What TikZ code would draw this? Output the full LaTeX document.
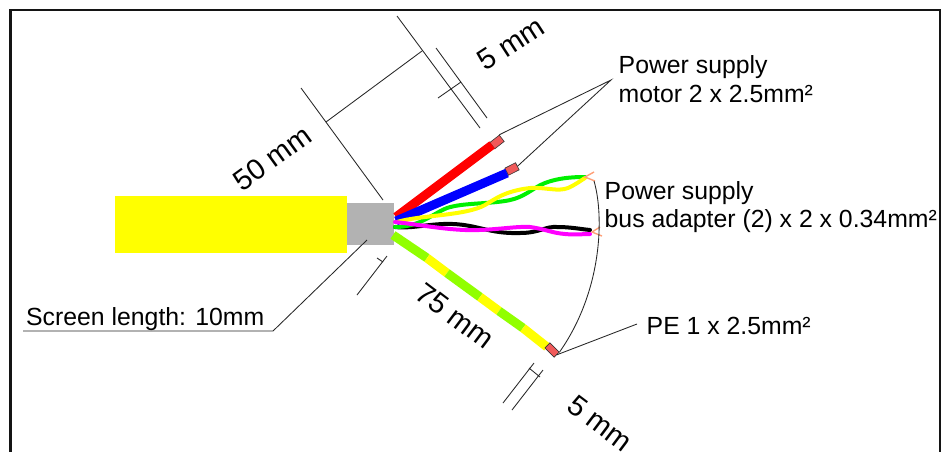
\documentclass[tikz,border=0pt]{standalone}
\usepackage{fontspec}
\setmainfont{Liberation Sans}
\definecolor{frameblk}{RGB}{20,20,20}
\definecolor{screengray}{RGB}{178,178,178}
\definecolor{lime}{RGB}{145,255,0}
\definecolor{tipred}{RGB}{240,90,90}
\definecolor{forkorange}{RGB}{255,160,120}
\definecolor{twgreen}{RGB}{0,240,0}
\definecolor{pureyellow}{RGB}{255,255,0}
\definecolor{puremagenta}{RGB}{255,0,255}
\definecolor{purered}{RGB}{255,0,0}
\definecolor{pureblue}{RGB}{0,0,255}
\tikzset{
  thin line/.style={draw=black!85,line width=0.85pt},
  label/.style={font=\fontsize{24.8}{28}\selectfont,inner sep=0pt,anchor=base west,text=black},
  dimlabel/.style={font=\fontsize{29}{32}\selectfont,inner sep=0pt,text=black},
  tip/.style={draw=black!80,fill=tipred,line width=0.6pt,minimum width=12pt,minimum height=8pt,inner sep=0pt},
  twist/.style={line width=4pt,line cap=round},
  fork/.style={draw=forkorange,line width=1.4pt},
  corewire/.style={line width=9pt}
}
\begin{document}
\begin{tikzpicture}[x=1pt,y=-1pt]
\useasboundingbox (0,0) rectangle (944,451);
\fill[white] (0,0) rectangle (944,451);
% frame
\draw[frameblk,line width=2.2pt] (10.5,452) -- (10.5,10) -- (940,10) -- (940,452);
% cable
\node[fill=pureyellow,minimum width=232pt,minimum height=57pt,inner sep=0pt] (jacket) at (231,224.5) {};
\node[fill=screengray,minimum width=47pt,minimum height=42pt,inner sep=0pt] (screen) at (370.5,224) {};
% coordinates
\coordinate (redstart) at (396,217);
\coordinate (bluestart) at (396,221);
\coordinate (redend) at (492,145);
\coordinate (blueend) at (507,173);
\node[tip,rotate=38] (redtip) at (497,142) {};
\node[tip,rotate=27] (bluetip) at (512,169) {};
\node[tip,rotate=-45,minimum width=13pt,minimum height=7pt] (petip) at (552,350) {};
% twisted pairs
\draw[black,twist] (395,227) .. controls (412,229) and (432,223) .. (453,224) .. controls (478,225) and (490,234) .. (520,233) .. controls (540,233) and (545,226) .. (558,227) .. controls (570,227) and (580,229) .. (590,230);
\draw[twgreen,twist] (395,227) .. controls (420,227) and (432,214) .. (447,208) .. controls (462,203) and (485,204) .. (505,201) .. controls (525,198) and (532,188) .. (545,183) .. controls (558,178) and (572,177) .. (585,177);
\draw[purered,corewire] (redstart) -- (redend);
\draw[pureblue,corewire] (bluestart) -- (blueend);
\draw[pureyellow,twist] (397,222) .. controls (420,215) and (465,216) .. (485,205) .. controls (495,199) and (505,191) .. (530,188) .. controls (545,187) and (558,192) .. (568,188) .. controls (575,185) and (580,181) .. (585,178);
\draw[puremagenta,twist] (395,222) .. controls (415,224) and (440,229) .. (465,230) .. controls (490,231) and (515,226) .. (530,227) .. controls (545,229) and (552,233) .. (565,234) .. controls (575,235) and (583,234) .. (590,234);
% forks
\draw[fork] (594,172) -- (585,177) -- (595,181);
\draw[fork] (600,227) -- (592,232) -- (602,236);
% PE wire
\coordinate (pea) at (393,235);
\coordinate (peb) at (427,258);
\coordinate (pec) at (447,273);
\coordinate (ped) at (480,297);
\coordinate (pee) at (499,311);
\coordinate (pef) at (523,328);
\coordinate (peg) at (547,347);
\draw[lime,corewire] (pea) -- (peb);
\draw[pureyellow,corewire] (peb) -- (pec);
\draw[lime,corewire] (pec) -- (ped);
\draw[pureyellow,corewire] (ped) -- (pee);
\draw[lime,corewire] (pee) -- (pef);
\draw[pureyellow,corewire] (pef) -- (peg);
\node[tip,rotate=-45,minimum width=13pt,minimum height=7pt] at (petip) {};
% brace
\coordinate (bracetop) at (594,181);
\draw[thin line] (bracetop) .. controls (604,215) and (603,290) .. (petip.north east);
% labels
\node[label] (pm1) at (618.5,73) {Power supply};
\node[label] (pm2) at (618.5,102) {motor 2 x 2.5mm²};
\node[label] (pb1) at (604.5,199) {Power supply};
\node[label] (pb2) at (604.5,227) {bus adapter (2) x 2 x 0.34mm²};
\node[label] (pe) at (646.5,334) {PE 1 x 2.5mm²};
\node[label] (scr) at (26,325) {Screen length: 10mm};
\node[dimlabel,rotate=36] (d50) at (272,158) {50 mm};
\node[dimlabel,rotate=33] (d5a) at (511,44) {5 mm};
\node[dimlabel,rotate=-37] (d75) at (455,316) {75 mm};
\node[dimlabel,rotate=-37] (d5b) at (600,423) {5 mm};
% leaders
\coordinate (apex) at (611,80);
\draw[thin line] (redtip.north east) -- (apex) -- (bluetip.east);
\coordinate (pelead) at (637,324);
\draw[thin line] (petip.east) -- (pelead);
\coordinate (sa) at (23,331);
\coordinate (sb) at (273,331);
\coordinate (sc) at (367,240);
\draw[thin line] (sa) -- (sb) -- (sc);
% dimensions
\coordinate (a1) at (397,16); \coordinate (a2) at (480,128);
\coordinate (b1) at (436,48); \coordinate (b2) at (487,118);
\coordinate (c1) at (438,98); \coordinate (c2) at (461,82);
\coordinate (e1) at (326,122); \coordinate (e2) at (422,51);
\coordinate (f1) at (301,88); \coordinate (f2) at (383,200);
\draw[thin line] (a1) -- (a2);
\draw[thin line] (b1) -- (b2);
\draw[thin line] (c1) -- (c2);
\draw[thin line] (e1) -- (e2);
\draw[thin line] (f1) -- (f2);
\coordinate (g1) at (534,363); \coordinate (g2) at (503,403);
\coordinate (h1) at (543,370); \coordinate (h2) at (512,410);
\coordinate (i1) at (529,368); \coordinate (i2) at (540,377);
\draw[thin line] (g1) -- (g2);
\draw[thin line] (h1) -- (h2);
\draw[thin line] (i1) -- (i2);
\coordinate (j1) at (387,256); \coordinate (j2) at (357,295);
\coordinate (k1) at (377,258); \coordinate (k2) at (383,262);
\draw[thin line] (j1) -- (j2);
\draw[thin line] (k1) -- (k2);
\end{tikzpicture}
\end{document}
